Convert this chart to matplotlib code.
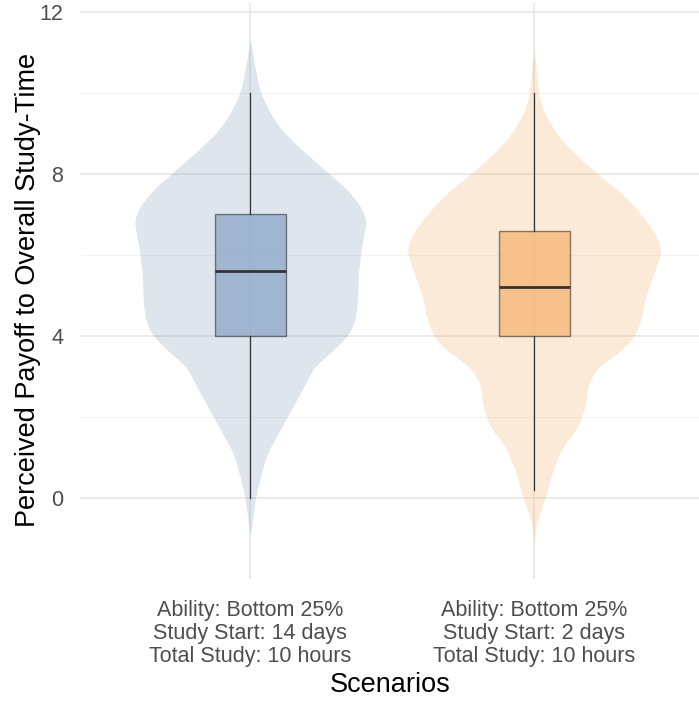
import numpy as np
import matplotlib
matplotlib.use("Agg")
import matplotlib.pyplot as plt

# ---- data ----
categories = ["Ability: Bottom 25%\nStudy Start: 14 days\nTotal Study: 10 hours",
              "Ability: Bottom 25%\nStudy Start: 2 days\nTotal Study: 10 hours"]

# violin profiles: (value, half-width in category units)
blue_y = [11.3, 11.06, 10.57, 10.02, 9.5, 9.09, 8.67, 8.27, 8.02, 7.6, 7.19, 6.86, 6.1, 5.5, 4.9,
          4.4, 4.02, 3.65, 3.23, 2.74, 2.0, 1.11, 0.69, 0.02, -0.62, -0.9]
blue_w = [0.0, 0.006, 0.018, 0.035, 0.07, 0.11, 0.17, 0.235, 0.275, 0.345, 0.39, 0.41, 0.39, 0.38,
          0.378, 0.37, 0.346, 0.293, 0.223, 0.188, 0.13, 0.06, 0.042, 0.018, 0.007, 0.0]
orange_y = [11.1, 10.57, 10.0, 9.65, 9.26, 8.84, 8.42, 8.02, 7.6, 7.19, 6.79, 6.5, 6.1, 5.7, 4.9,
            4.47, 4.0, 3.65, 3.23, 2.84, 2.25, 1.75, 1.26, 0.69, 0.02, -0.62, -1.15]
orange_w = [0.0, 0.008, 0.016, 0.028, 0.055, 0.096, 0.155, 0.22, 0.296, 0.355, 0.40, 0.43, 0.45,
            0.43, 0.39, 0.38, 0.355, 0.31, 0.225, 0.19, 0.18, 0.155, 0.10, 0.067, 0.039, 0.008, 0.0]

# box statistics: low whisker, Q1, median, Q3, high whisker
whislo = [0.0, 0.2]
q1 = [4.0, 4.0]
med = [5.6, 5.2]
q3 = [7.0, 6.6]
whishi = [10.0, 10.0]

violin_colors = ["#7f9bbb", "#f3af67"]
box_colors = ["#8ba5c6", "#f5b471"]

# ---- figure ----
plt.rcParams['font.family'] = ['Liberation Sans', 'DejaVu Sans']
fig = plt.figure(figsize=(6.99, 7.02), dpi=100)
ax = fig.add_axes([80 / 699, 123 / 702, 624.4 / 699, 576 / 702])

ax.set_xlim(0.4, 2.6)
ax.set_ylim(-2.0, 12.22)

# grid
for v in [-2, 2, 6, 10]:
    ax.axhline(v, color="#f0f0f0", lw=0.6, zorder=0)
for v in [0, 4, 8, 12]:
    ax.axhline(v, color="#e6e6e6", lw=1.2, zorder=0)
for xv in [1, 2]:
    ax.axvline(xv, color="#e6e6e6", lw=1.2, zorder=0)


def smooth_profile(ys, ws):
    ys = np.asarray(ys)[::-1]
    ws = np.asarray(ws)[::-1]
    yy = np.linspace(ys[0], ys[-1], 800)
    ww = np.interp(yy, ys, ws)
    k = np.exp(-0.5 * (np.linspace(-3, 3, 49)) ** 2)
    k /= k.sum()
    pad = np.pad(ww, 24, mode="edge")
    ws2 = np.convolve(pad, k, mode="valid")
    ws2[0] = 0
    ws2[-1] = 0
    return yy, np.clip(ws2, 0, None)


profiles = [(blue_y, blue_w), (orange_y, orange_w)]
for i, (ys, ws) in enumerate(profiles):
    pos = i + 1
    yy, ww = smooth_profile(ys, ws)
    ax.fill_betweenx(yy, pos - ww, pos + ww, color=violin_colors[i], alpha=0.25,
                     lw=0, zorder=1)

stats = []
for i in range(2):
    stats.append(dict(whislo=whislo[i], q1=q1[i], med=med[i], q3=q3[i], whishi=whishi[i],
                      fliers=[]))
bp = ax.bxp(stats, positions=[1, 2], widths=0.25, patch_artist=True, showcaps=False,
            manage_ticks=False, zorder=2,
            boxprops=dict(edgecolor="#333333", lw=1.0),
            whiskerprops=dict(color="#333333", lw=0.9),
            medianprops=dict(color="#333333", lw=2.0))
for i, b in enumerate(bp["boxes"]):
    b.set_edgecolor((0.2, 0.2, 0.2, 0.6))
    b.set_facecolor(matplotlib.colors.to_rgba(box_colors[i], 0.75))

for s in ax.spines.values():
    s.set_visible(False)

ax.set_xticks([1, 2])
ax.set_xticklabels(categories, fontsize=15.5, color="#4d4d4d", linespacing=1.12)
ax.set_yticks([0, 4, 8, 12])
ax.set_yticklabels(["0", "4", "8", "12"], fontsize=15.5, color="#4d4d4d")
ax.tick_params(axis="both", length=0)
ax.tick_params(axis="y", pad=12)
ax.tick_params(axis="x", pad=15)

ax.set_xlabel("Scenarios", fontsize=19.5, color="black")
fig.text(28 / 699, 1 - 290 / 702, "Perceived Payoff to Overall Study-Time", rotation=90,
         fontsize=19.5, ha="center", va="center", color="black")
# keep xlabel centred on the visible panel
ax.xaxis.set_label_coords((390 / 699 - 80 / 699) / (624.4 / 699), -0.162)

fig.savefig("out.png", dpi=100)
